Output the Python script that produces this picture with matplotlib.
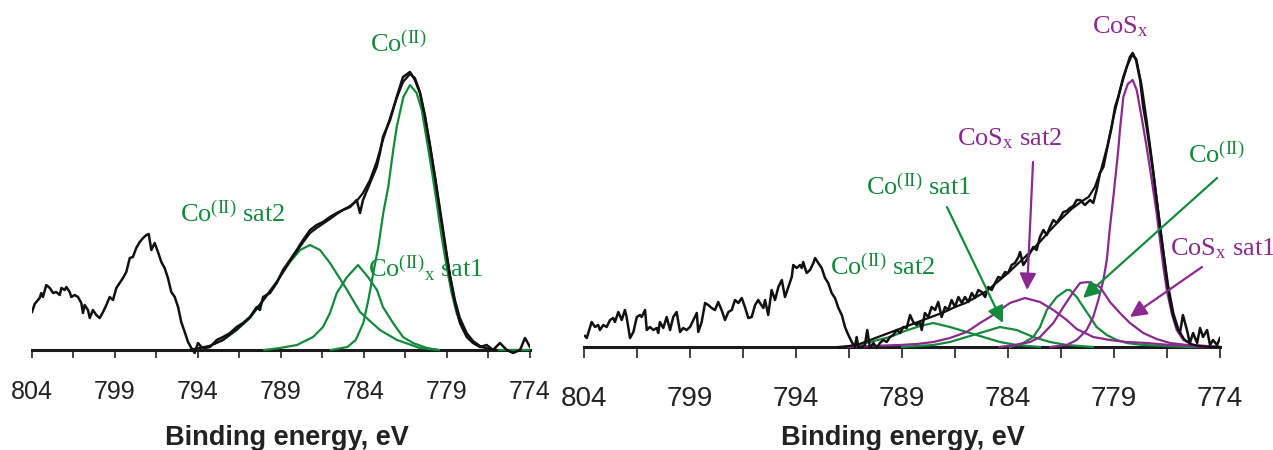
# =========================
# ESPECTROS XPS Co 2p
# =========================

import matplotlib
matplotlib.use("Agg")
import matplotlib.pyplot as plt

# -------------------------
# DADOS - PAINEL ESQUERDO
# -------------------------
ticks_major = [804, 799, 794, 789, 784, 779, 774]
ticks_minor = [801.5, 796.5, 791.5, 786.5, 781.5, 776.5]

left_E = [804.0, 803.84, 803.54, 803.44, 803.34, 803.14, 802.93, 802.73, 802.54, 802.33,
          802.23, 802.03, 801.93, 801.73, 801.63, 801.43, 801.23, 801.03, 800.93, 800.83,
          800.63, 800.52, 800.33, 800.13, 799.92, 799.72, 799.52, 799.32, 799.12, 798.92,
          798.72, 798.52, 798.32, 798.11, 797.92, 797.72, 797.51, 797.31, 797.11, 796.97,
          796.81, 796.61, 796.41, 796.21, 796.01, 795.81, 795.61, 795.40, 795.20, 795.01,
          794.80, 794.60, 794.40, 794.20, 794.00, 793.80, 793.60, 793.28, 792.87, 792.49,
          792.07, 791.67, 791.29, 790.87, 790.46, 790.27, 790.08, 789.66, 789.26, 788.88,
          788.46, 788.05, 787.67, 787.25, 786.85, 786.47, 786.05, 785.64, 785.27, 784.84,
          784.44, 784.24, 784.06, 783.64, 783.24, 783.04, 782.86, 782.43, 782.03, 781.65,
          781.23, 780.93, 780.63, 780.33, 780.02, 779.72, 779.42, 779.12, 778.82, 778.52,
          778.22, 777.81, 777.43, 777.01, 776.61, 776.23, 775.81, 775.40, 775.02, 774.60,
          774.30, 774.0]
left_I = [38, 46, 52, 57, 53, 65, 62, 57, 58, 55,
          62, 60, 63, 58, 53, 55, 53, 47, 37, 45,
          40, 32, 40, 35, 32, 38, 45, 53, 50, 62,
          67, 72, 78, 92, 93, 102, 108, 112, 115, 116,
          100, 107, 98, 88, 82, 72, 58, 53, 43, 28,
          18, 8, 2, -3, 7, 3, 2, 3, 10, 13,
          17, 23, 27, 33, 43, 40, 53, 57, 67, 80,
          90, 100, 110, 120, 125, 128, 133, 137, 140, 143,
          150, 137, 150, 167, 183, 197, 213, 230, 253, 273,
          278, 270, 257, 233, 203, 173, 140, 107, 73, 47,
          27, 13, 7, 3, 5, 0, 7, 0, -3, 0,
          12, 3]

left_env_E = [794.5, 793.3, 792.5, 791.7, 790.9, 790.1, 789.3, 788.5, 787.7, 787.25,
              786.85, 786.5, 786.05, 785.64, 785.27, 784.84, 784.44, 784.06, 783.64, 783.24,
              782.86, 782.43, 782.03, 781.65, 781.23, 780.93, 780.63, 780.33, 780.02, 779.72,
              779.42, 779.12, 778.82, 778.52, 778.22, 777.81, 777.43, 777.01, 776.5, 776.0]
left_env_I = [0, 4, 10, 20, 32, 49, 67, 88, 107, 117,
              122, 126, 131, 136, 140, 144, 149, 157, 170, 188,
              210, 232, 252, 268, 276, 272, 258, 235, 205, 172,
              138, 105, 75, 50, 32, 17, 9, 4, 1, 0]

# componentes (verde)
left_co2_E = [786.0, 785.0, 784.5, 784.04, 783.74, 783.44, 783.14, 782.84, 782.54, 782.24,
              782.03, 781.63, 781.23, 780.83, 780.52, 780.22, 779.92, 779.62, 779.32, 779.02,
              778.72, 778.42, 778.02, 777.61, 777.01, 776.0, 774.0]
left_co2_I = [0, 3, 10, 27, 50, 77, 103, 137, 163, 200,
              223, 253, 265, 257, 240, 210, 180, 147, 113, 83,
              57, 37, 20, 10, 3, 0, 0]

left_sat1_E = [790.0, 789.06, 788.04, 787.07, 786.47, 786.05, 785.64, 785.02, 784.36, 783.76,
               783.22, 782.86, 782.25, 781.65, 781.05, 780.21, 779.5]
left_sat1_I = [0, 2, 5, 13, 23, 37, 57, 73, 85, 73,
               60, 43, 27, 13, 7, 2, 0]

left_sat2_E = [794.5, 793.3, 792.49, 791.67, 790.87, 790.08, 789.26, 788.46, 787.85, 787.25,
               786.65, 786.05, 785.02, 784.24, 783.04, 782.01, 780.63, 779.5]
left_sat2_I = [0, 4, 10, 20, 32, 50, 68, 88, 100, 105,
               100, 87, 60, 38, 20, 10, 2, 0]

# -------------------------
# DADOS - PAINEL DIREITO
# -------------------------
right_E = [803.95, 803.87, 803.64, 803.48, 803.33, 803.25, 803.09, 802.93, 802.77, 802.62,
           802.54, 802.38, 802.22, 802.07, 801.99, 801.83, 801.67, 801.51, 801.36, 801.28,
           801.12, 801.04, 800.89, 800.73, 800.57, 800.50, 800.42, 800.26, 800.10, 799.94,
           799.79, 799.63, 799.47, 799.32, 799.16, 799.00, 798.84, 798.68, 798.61, 798.45,
           798.29, 798.14, 797.98, 797.82, 797.67, 797.51, 797.35, 797.19, 797.03, 796.88,
           796.72, 796.56, 796.41, 796.25, 796.09, 795.93, 795.78,
           795.70, 795.54, 795.46, 795.31, 795.15, 794.99, 794.83, 794.67, 794.52, 794.36,
           794.20, 794.13, 793.97, 793.81, 793.73, 793.66, 793.50, 793.34, 793.18, 793.10,
           792.95, 792.79, 792.63, 792.48, 792.32, 792.16, 792.00, 791.84, 791.69, 791.53,
           791.37, 791.22, 791.14, 791.06, 790.90, 790.75, 790.64, 790.51, 790.35, 790.19,
           790.04, 789.88, 789.72, 789.57, 789.41, 789.25, 789.09, 788.94, 788.78, 788.62,
           788.47, 788.31, 788.15,
           788.07, 787.92, 787.76, 787.60, 787.44, 787.29, 787.13, 786.97, 786.82, 786.66,
           786.50, 786.34, 786.18, 786.03, 785.87, 785.71, 785.56, 785.40, 785.24, 785.08,
           784.93, 784.77, 784.61, 784.46, 784.30, 784.14, 783.99, 783.83, 783.67, 783.51,
           783.43, 783.28, 783.12, 782.96, 782.81, 782.65, 782.49, 782.33, 782.17, 782.02,
           781.86, 781.70, 781.55, 781.39, 781.23, 781.08, 780.92, 780.76,
           780.60, 780.37, 780.13, 779.98, 779.82, 779.66, 779.50, 779.34, 779.11, 778.95,
           778.80, 778.56, 778.40, 778.25, 778.12, 777.96, 777.77, 777.62, 777.46, 777.30,
           777.15, 776.99, 776.83, 776.67, 776.51, 776.36, 776.20, 776.04, 775.89, 775.75,
           775.56, 775.42, 775.27, 775.08, 774.94, 774.80, 774.61, 774.47, 774.33, 774.14,
           774.0]
right_I = [11, 9, 25, 20, 22, 17, 22, 20, 27, 29,
           25, 35, 27, 37, 30, 9, 15, 30, 32, 30,
           37, 17, 20, 17, 19, 14, 25, 19, 30, 17,
           30, 35, 15, 19, 17, 20, 27, 34, 15, 25,
           44, 42, 39, 37, 45, 37, 27, 35, 37, 47,
           44, 49, 40, 29, 30, 42, 47,
           44, 39, 47, 32, 57, 47, 60, 67, 50, 60,
           70, 82, 79, 82, 79, 85, 74, 77, 84, 89,
           84, 79, 69, 64, 54, 49, 39, 32, 20, 12,
           5, 0, 10, 0, 0, 2, 17, -1, 4, -1,
           4, 7, 5, 10, 12, 17, 14, 20, 19, 32,
           25, 22, 25,
           17, 34, 30, 40, 37, 45, 30, 40, 37, 47,
           40, 50, 44, 50, 45, 54, 49, 57, 55, 50,
           60, 57, 64, 70, 69, 75, 74, 82, 84, 90,
           95, 82, 87, 94, 100, 97, 110, 117, 112, 120,
           127, 124, 129, 135, 136, 139, 141, 147,
           147, 142, 147, 144, 157, 174, 180, 197, 220, 240,
           250, 270, 280, 290, 294, 287, 267, 240, 220, 197,
           174, 147, 120, 94, 67, 47, 30, 20, 14, 32,
           17, 4, 14, 4, 19, 10, 17, 2, 7, 2,
           9]

right_env_E = [792.0, 791.5, 791.0, 790.5, 790.0, 789.5, 789.0, 788.5, 788.0, 787.5,
               787.0, 786.5, 786.0, 785.5, 785.0, 784.5, 784.0, 783.5, 783.0, 782.5,
               782.0, 781.5, 781.0, 780.5, 780.2, 779.9, 779.6, 779.3, 779.0, 778.7,
               778.4, 778.15, 777.95, 777.7, 777.45, 777.2, 776.95, 776.7, 776.45, 776.2,
               775.95, 775.7, 775.4, 775.0, 774.5, 774.0]
right_env_I = [0, 1, 3, 7, 11, 15, 19, 23, 27, 31,
               35, 40, 44, 50, 56, 65, 74, 84, 94, 105,
               117, 128, 138, 146, 150, 160, 178, 202, 232, 258,
               280, 292, 288, 262, 225, 185, 142, 100, 62, 34,
               17, 8, 3, 1, 0, 0]

# componentes roxos
right_cos_E = [782.0, 781.23, 780.76, 780.29, 779.98, 779.74, 779.50, 779.34, 779.19, 779.03,
               778.80, 778.72, 778.56, 778.35, 778.12, 777.93, 777.70, 777.46, 777.22, 776.99,
               776.83, 776.67, 776.51, 776.28, 776.04, 775.73, 775.26, 774.0]
right_cos_I = [0, 2, 7, 17, 30, 47, 67, 87, 120, 150,
               197, 217, 250, 263, 267, 257, 230, 200, 167, 134,
               107, 80, 57, 34, 17, 7, 2, 0]

right_cos_sat1_E = [784.4, 783.67, 782.96, 782.49, 781.86, 781.39, 780.92, 780.60, 780.23, 779.66,
                    779.19, 778.72, 778.25, 777.62, 776.99, 776.36, 775.57, 775.0, 774.0]
right_cos_sat1_I = [0, 2, 5, 10, 24, 40, 55, 64, 65, 60,
                    45, 34, 24, 14, 8, 4, 2, 0, 0]

right_cos_sat2_E = [791.5, 790.5, 789.09, 788.31, 787.52, 786.74, 785.95, 785.32, 784.85, 784.38,
                    783.91, 783.20, 782.49, 781.86, 781.23, 780.76, 779.98, 779.19, 778.40, 777.46,
                    776.36, 774.94, 774.0]
right_cos_sat2_I = [0, 1, 2, 3, 5, 9, 15, 24, 30, 37,
                    44, 49, 45, 37, 27, 18, 10, 7, 5, 4,
                    2, 1, 0]

# componentes verdes
right_co2_E = [783.91, 783.28, 782.81, 782.49, 782.17, 781.70, 781.23, 781.08, 780.76, 780.45,
               780.13, 779.82, 779.34, 778.87, 778.40, 777.63, 775.5, 774.0]
right_co2_I = [0, 4, 10, 20, 37, 50, 57, 57, 50, 40,
               30, 20, 12, 7, 4, 2, 0, 0]

right_sat1_E = [789.0, 787.52, 786.74, 785.95, 785.17, 784.38, 783.59, 782.81, 782.02, 781.23, 780.0]
right_sat1_I = [0, 2, 5, 10, 15, 20, 17, 10, 5, 2, 0]

right_sat2_E = [791.55, 790.51, 789.57, 788.86, 788.15, 787.52, 786.74, 785.95, 785.17, 784.38,
                783.59, 782.49]
right_sat2_I = [0, 5, 10, 16, 21, 24, 20, 15, 10, 5,
                2, 0]

# -------------------------
# ESTILO
# -------------------------
VERDE = '#138a3c'
ROXO = '#8a2a8e'
SERIF = 'Liberation Serif'
SANS = 'Liberation Sans'

plt.rcParams['mathtext.fontset'] = 'custom'
plt.rcParams['mathtext.rm'] = SERIF
plt.rcParams['mathtext.it'] = SERIF + ':italic'
plt.rcParams['mathtext.bf'] = SERIF + ':bold'


def estilo_eixo(ax, tam, comp, pad):
    ax.set_xlim(804, 774)
    ax.set_ylim(-10, 340)
    for s in ['left', 'right', 'top']:
        ax.spines[s].set_visible(False)
    ax.spines['bottom'].set_position(('data', 0))
    ax.spines['bottom'].set_linewidth(2.2)
    ax.spines['bottom'].set_color('#1a1a1a')
    ax.set_yticks([])
    ax.set_xticks(ticks_major)
    ax.set_xticklabels([str(t) for t in ticks_major], fontsize=tam, family=SANS, color='#222222')
    ax.set_xticks(ticks_minor, minor=True)
    ax.tick_params(axis='x', which='both', direction='out', length=comp,
                   width=1.3, color='#333333', pad=pad)
    ax.patch.set_visible(False)


def seta(ax, inicio, fim, cor):
    ax.annotate('', xy=fim, xytext=inicio,
                arrowprops=dict(arrowstyle='-|>,head_length=0.5,head_width=0.25',
                                color=cor, lw=1.6, shrinkA=0, shrinkB=0,
                                mutation_scale=20), zorder=6)


fig = plt.figure(figsize=(12.73, 4.5), dpi=100)
ax1 = fig.add_axes([32 / 1273, 1 - 360 / 450, 498 / 1273, 350 / 450])
ax2 = fig.add_axes([584 / 1273, 1 - 357 / 450, 636 / 1273, 350 / 450])

# -------------------------
# PAINEL ESQUERDO
# -------------------------
estilo_eixo(ax1, 18, 5.8, 15.5)
for e, i in [(left_sat2_E, left_sat2_I), (left_sat1_E, left_sat1_I), (left_co2_E, left_co2_I)]:
    ax1.plot(e, i, color=VERDE, lw=1.6, zorder=3)
ax1.plot(left_env_E, left_env_I, color='#111111', lw=1.6, zorder=4)
ax1.plot(left_E, left_I, color='#111111', lw=1.8, zorder=5)

txt = dict(fontsize=19, family=SERIF, ha='left', va='baseline')
ax1.text(783.64, 298, r'Co$^{\rm (II)}$', color=VERDE, **txt)
ax1.text(795.08, 128, r'Co$^{\rm (II)}$ sat2', color=VERDE, **txt)
ax1.text(783.76, 73, r'Co$^{\rm (II)}{}_{\rm x}$ sat1', color=VERDE, **txt)

# -------------------------
# PAINEL DIREITO
# -------------------------
estilo_eixo(ax2, 20, 7.9, 20.5)
for e, i in [(right_sat2_E, right_sat2_I), (right_sat1_E, right_sat1_I), (right_co2_E, right_co2_I)]:
    ax2.plot(e, i, color=VERDE, lw=1.6, zorder=3)
for e, i in [(right_cos_sat2_E, right_cos_sat2_I), (right_cos_sat1_E, right_cos_sat1_I),
             (right_cos_E, right_cos_I)]:
    ax2.plot(e, i, color=ROXO, lw=1.6, zorder=3)
ax2.plot(right_env_E, right_env_I, color='#111111', lw=1.6, zorder=4)
ax2.plot(right_E, right_I, color='#111111', lw=1.8, zorder=5)

ax2.text(780.04, 314, r'CoS$_{\rm x}$', color=ROXO, **txt)
ax2.text(786.41, 202, r'CoS$_{\rm x}$ sat2', color=ROXO, **txt)
ax2.text(790.70, 152, r'Co$^{\rm (II)}$ sat1', color=VERDE, **txt)
ax2.text(775.51, 184, r'Co$^{\rm (II)}$', color=VERDE, **txt)
ax2.text(776.36, 92, r'CoS$_{\rm x}$ sat1', color=ROXO, **txt)
ax2.text(792.40, 72, r'Co$^{\rm (II)}$ sat2', color=VERDE, **txt)

seta(ax2, (786.88, 140), (784.24, 24), VERDE)
seta(ax2, (782.82, 185), (783.10, 57), ROXO)
seta(ax2, (774.14, 169), (780.46, 49), VERDE)
seta(ax2, (774.85, 80), (778.25, 30), ROXO)

# -------------------------
# RÓTULOS DOS EIXOS
# -------------------------
for xc in [287 / 1273, 903 / 1273]:
    fig.text(xc, 5 / 450, 'Binding energy, eV', fontsize=19.5, fontweight='bold',
             family=SANS, ha='center', va='baseline', color='#222222')

fig.savefig('out.png', dpi=100)
